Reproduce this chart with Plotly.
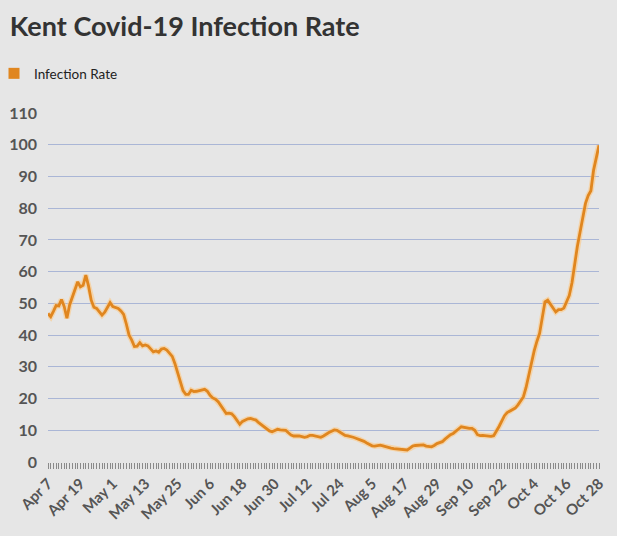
import pandas as pd
import plotly.graph_objects as go

start_date = "2020-04-07"
end_date = "2020-10-28"
dates = pd.date_range(start_date, end_date, freq="D")

infection_rate = [
    46.8, 45.8, 47.5, 49.3, 49.2, 51.2, 49.0, 45.3, 49.5, 52.0,
    54.7, 56.8, 55.2, 55.7, 58.9, 55.5, 51.0, 48.8, 48.4, 47.5,
    46.3, 47.2, 48.8, 50.2, 49.0, 48.8, 48.4, 47.6, 46.5, 43.5,
    40.0, 38.4, 36.4, 36.5, 37.6, 36.6, 36.9, 36.6, 35.6, 34.7,
    35.0, 34.6, 35.6, 35.8, 35.3, 34.3, 33.3, 31.0, 28.0, 25.5,
    22.5, 21.3, 21.3, 22.6, 22.2, 22.3, 22.5, 22.6, 22.9, 22.3,
    21.0, 20.2, 19.8, 19.0, 17.8, 16.6, 15.3, 15.4, 15.2, 14.3,
    13.2, 11.9, 12.8, 13.3, 13.6, 13.7, 13.5, 13.2, 12.4, 11.8,
    11.2, 10.5, 9.8, 9.5, 9.8, 10.3, 10.1, 10.0, 10.0, 9.2,
    8.5, 8.2, 8.3, 8.2, 8.0, 7.8, 8.0, 8.4, 8.4, 8.2,
    8.0, 7.8, 8.2, 8.9, 9.3, 9.7, 10.1, 10.0, 9.4, 8.8,
    8.4, 8.2, 8.1, 7.8, 7.5, 7.2, 6.9, 6.5, 6.0, 5.5,
    5.1, 5.0, 5.2, 5.3, 5.1, 4.8, 4.6, 4.4, 4.2, 4.1,
    4.0, 3.8, 3.7, 3.8, 4.4, 5.0, 5.2, 5.3, 5.5, 5.4,
    5.0, 4.9, 4.8, 5.2, 5.8, 6.1, 6.4, 7.2, 8.0, 8.6,
    9.0, 9.6, 10.4, 11.1, 10.9, 10.6, 10.6, 10.6, 10.0, 8.6,
    8.3, 8.4, 8.3, 8.2, 8.1, 8.3, 9.6, 11.2, 12.9, 14.6,
    15.6, 16.0, 16.5, 17.0, 18.0, 19.2, 20.5, 23.5, 27.5, 31.5,
    35.0, 38.0, 40.5, 45.5, 50.5, 51.0, 49.8, 48.3, 47.3, 48.0,
    48.0, 48.5, 50.5, 52.5, 56.5, 62.5, 68.0, 72.5, 77.0, 81.5,
    84.0, 85.5, 92.0, 96.5, 99.8,
]

tick_dates = pd.date_range(start_date, end_date, freq="12D")
tick_labels = [f"{d.strftime('%b')} {d.day}" for d in tick_dates]
y_ticks = list(range(0, 111, 10))

series_name = "Infection Rate"
line_color = "#e0861f"
halo_color = "rgba(255,196,120,0.55)"
bg = "#e6e6e6"

fig = go.Figure()
fig.add_trace(go.Scatter(x=dates, y=infection_rate, mode="lines",
                         line=dict(color=halo_color, width=5.5),
                         showlegend=False, hoverinfo="skip"))
fig.add_trace(go.Scatter(x=dates, y=infection_rate, mode="lines",
                         line=dict(color=line_color, width=2.8),
                         showlegend=False, name=series_name))
fig.add_trace(go.Scatter(x=[None], y=[None], mode="markers",
                         marker=dict(symbol="square", size=11, color=line_color),
                         name=series_name))

fig.update_layout(
    width=617, height=536,
    paper_bgcolor=bg, plot_bgcolor=bg,
    margin=dict(l=48, r=18, t=113, b=74, autoexpand=False),
    font=dict(family="Lato, 'Open Sans', sans-serif", color="#333333"),
    title=dict(text="<b>Kent Covid-19 Infection Rate</b>",
               x=0.016, xref="container", xanchor="left",
               y=0.951, yref="container", yanchor="middle",
               font=dict(size=27, color="#333333")),
    showlegend=True,
    legend=dict(x=-0.098, y=1.113, xref="paper", yref="paper",
                xanchor="left", yanchor="middle",
                font=dict(size=13.5, color="#222222"),
                bgcolor="rgba(0,0,0,0)", itemwidth=30),
)

fig.update_xaxes(
    type="date",
    range=[dates[0], dates[-1]],
    tickvals=tick_dates, ticktext=tick_labels,
    tickangle=-45,
    tickfont=dict(size=15, color="#555555", weight="bold"),
    ticks="outside", ticklen=6, tickcolor="#8a8a8a", tickwidth=1,
    minor=dict(dtick=86400000, ticks="outside", ticklen=6,
               tickcolor="#8a8a8a", tickwidth=1, showgrid=False),
    showgrid=False, zeroline=False, showline=False, automargin=False,
)
fig.update_yaxes(
    range=[0, 110],
    tickvals=y_ticks,
    tickfont=dict(size=16, color="#555555", weight="bold"),
    gridcolor="#aab6d6", gridwidth=1,
    zeroline=False, showline=False, automargin=False,
    ticks="", ticklabelstandoff=10,
)

fig.write_html("out.html", config={"displayModeBar": False},
               post_script="document.body.style.margin='0px';")
